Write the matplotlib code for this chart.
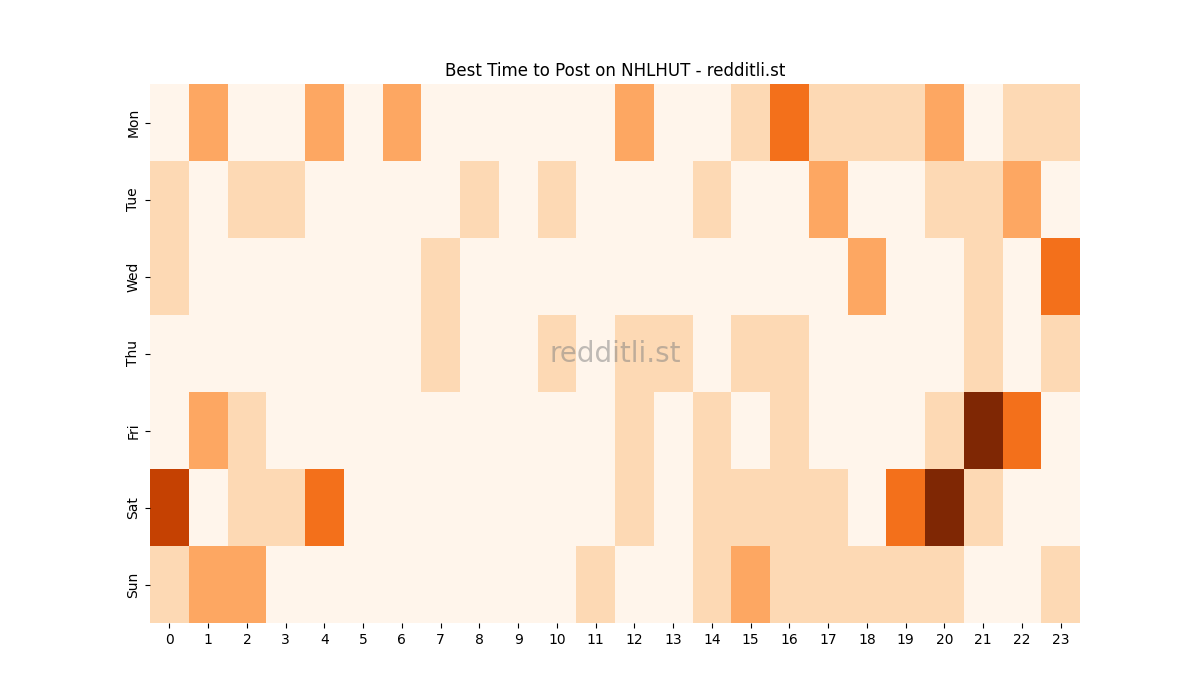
import matplotlib
matplotlib.use("Agg")
import matplotlib.pyplot as plt
import seaborn as sns
import numpy as np

days = ["Mon", "Tue", "Wed", "Thu", "Fri", "Sat", "Sun"]
hours = list(range(24))

mon = [0, 2, 0, 0, 2, 0, 2, 0, 0, 0, 0, 0, 2, 0, 0, 1, 3, 1, 1, 1, 2, 0, 1, 1]
tue = [1, 0, 1, 1, 0, 0, 0, 0, 1, 0, 1, 0, 0, 0, 1, 0, 0, 2, 0, 0, 1, 1, 2, 0]
wed = [1, 0, 0, 0, 0, 0, 0, 1, 0, 0, 0, 0, 0, 0, 0, 0, 0, 0, 2, 0, 0, 1, 0, 3]
thu = [0, 0, 0, 0, 0, 0, 0, 1, 0, 0, 1, 0, 1, 1, 0, 1, 1, 0, 0, 0, 0, 1, 0, 1]
fri = [0, 2, 1, 0, 0, 0, 0, 0, 0, 0, 0, 0, 1, 0, 1, 0, 1, 0, 0, 0, 1, 5, 3, 0]
sat = [4, 0, 1, 1, 3, 0, 0, 0, 0, 0, 0, 0, 1, 0, 1, 1, 1, 1, 0, 3, 5, 1, 0, 0]
sun = [1, 2, 2, 0, 0, 0, 0, 0, 0, 0, 0, 1, 0, 0, 1, 2, 1, 1, 1, 1, 1, 0, 0, 1]

grid = np.array([mon, tue, wed, thu, fri, sat, sun])

fig, ax = plt.subplots(figsize=(12, 7), dpi=100)
sns.heatmap(grid, cmap="Oranges", vmin=0, vmax=5, cbar=False,
            xticklabels=hours, yticklabels=days, ax=ax)
ax.set_title("Best Time to Post on NHLHUT - redditli.st")
ax.text(0.5, 0.5, "redditli.st", transform=ax.transAxes, ha="center", va="center",
        fontsize=20, color="gray", alpha=0.5)
plt.setp(ax.get_xticklabels(), rotation=0)
plt.setp(ax.get_yticklabels(), rotation=90, va="center")
fig.savefig("out.png")
